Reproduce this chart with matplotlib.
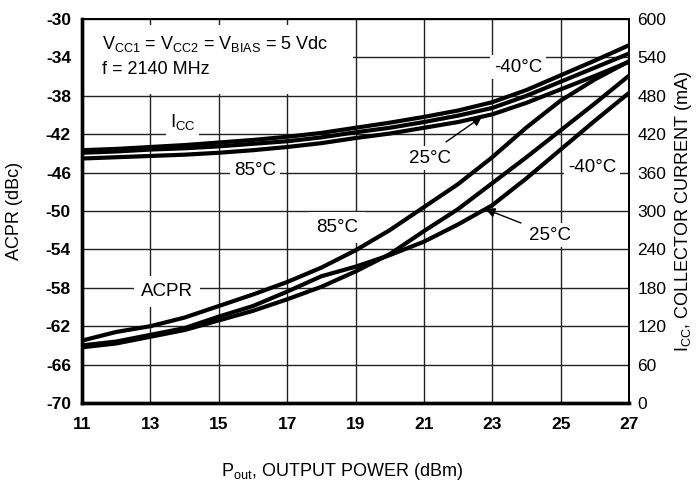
import matplotlib
matplotlib.use("Agg")
import matplotlib.pyplot as plt
from matplotlib.patches import Rectangle

plt.rcParams['font.family'] = ['Liberation Sans', 'DejaVu Sans']
plt.rcParams['mathtext.fontset'] = 'custom'
plt.rcParams['mathtext.rm'] = 'Liberation Sans'

# output power sweep (dBm)
pout = [11, 12, 13, 14, 15, 16, 17, 18, 19, 20, 21, 22, 23, 24, 25, 26, 27]

# ACPR (dBc), three temperatures
acpr_a = [-63.5, -62.6, -62.0, -61.1, -59.9, -58.7, -57.4, -55.9, -54.1, -52.0,
          -49.6, -47.2, -44.4, -41.3, -38.5, -36.3, -34.4]
acpr_b = [-64.2, -63.8, -63.1, -62.4, -61.4, -60.4, -59.2, -57.9, -56.3, -54.5,
          -52.1, -49.8, -47.1, -44.4, -41.6, -38.8, -35.9]
acpr_c = [-64.0, -63.6, -62.9, -62.2, -61.0, -59.9, -58.4, -56.8, -55.8, -54.6,
          -53.2, -51.4, -49.4, -46.6, -43.6, -40.6, -37.7]

# collector current (mA), three temperatures
icc_a = [395, 397, 400, 403, 407, 411, 416, 422, 430, 438, 447, 457, 470, 489, 512, 535, 559]
icc_b = [391, 393, 396, 398, 401, 405, 409, 415, 423, 430, 439, 449, 461, 480, 502, 524, 546]
icc_c = [382, 384, 386, 388, 391, 395, 400, 406, 414, 421, 430, 439, 451, 469, 490, 511, 533]

xticks = [11, 13, 15, 17, 19, 21, 23, 25, 27]
acpr_ticks = [-70, -66, -62, -58, -54, -50, -46, -42, -38, -34, -30]
icc_ticks = [0, 60, 120, 180, 240, 300, 360, 420, 480, 540, 600]

fig = plt.figure(figsize=(7, 4.82), dpi=100)
ax = fig.add_axes([82 / 700, 1 - 403 / 482, 547 / 700, 384 / 482])
ax.set_xlim(11, 27)
ax.set_ylim(-70, -30)
ax.set_xticks(xticks)
ax.set_yticks(acpr_ticks)
ax.set_xticklabels([str(v) for v in xticks], fontweight='bold', fontsize=12.5)
ax.set_yticklabels([str(v) for v in acpr_ticks], fontweight='bold', fontsize=12.5)
ax.tick_params(axis='y', length=0, pad=8)
ax.tick_params(axis='x', length=0, pad=10)
ax.grid(True, color='#222222', lw=1.0)
ax.set_axisbelow(True)

ax2 = ax.twinx()
ax2.set_ylim(0, 600)
ax2.set_yticks(icc_ticks)
ax2.set_yticklabels([str(v) for v in icc_ticks], fontsize=12.5)
ax2.tick_params(axis='y', length=0, pad=6)

for a in (ax, ax2):
    a.spines['left'].set_linewidth(2.4)
    a.spines['bottom'].set_linewidth(2.4)
    a.spines['top'].set_linewidth(1.3)
    a.spines['right'].set_linewidth(1.3)

# white cut-out behind the test conditions
ax.add_patch(Rectangle((11, -37.85), 7.93, 7.2, facecolor='white', edgecolor='none', zorder=1))

lw = 3.0
for y in (acpr_a, acpr_b, acpr_c):
    ax.plot(pout, y, color='black', lw=lw, solid_joinstyle='round', solid_capstyle='butt', zorder=3)
for y in (icc_a, icc_b, icc_c):
    ax2.plot(pout, y, color='black', lw=lw, solid_joinstyle='round', solid_capstyle='butt', zorder=3)

box = dict(facecolor='white', edgecolor='none', pad=2.5)
fs = 13.5
ax.text(11.58, -32.6, r'V$_{\mathregular{CC1}}$ = V$_{\mathregular{CC2}}$ = V$_{\mathregular{BIAS}}$ = 5 Vdc',
        fontsize=13, ha='left', va='center', zorder=2)
ax.text(11.58, -35.3, 'f = 2140 MHz', fontsize=13, ha='left', va='center', zorder=2)

ax.text(13.95, -40.8, r'I$_{\mathregular{CC}}$', fontsize=fs, ha='center', va='center', bbox=box, zorder=2)
ax.text(16.06, -45.8, '85°C', fontsize=fs, ha='center', va='center', bbox=box, zorder=2)
ax.text(23.75, -35.0, '-40°C', fontsize=fs, ha='center', va='center', bbox=box, zorder=2)
ax.text(21.18, -44.5, '25°C', fontsize=fs, ha='center', va='center', bbox=box, zorder=2)
ax.text(18.46, -51.7, '85°C', fontsize=fs, ha='center', va='center',
        bbox=dict(facecolor='white', edgecolor='none', pad=5), zorder=2)
ax.text(13.49, -58.4, 'ACPR', fontsize=fs, ha='center', va='center',
        bbox=dict(facecolor='white', edgecolor='none', pad=5), zorder=2)
ax.text(25.92, -45.5, '-40°C', fontsize=fs, ha='center', va='center', bbox=box, zorder=2)
ax.text(24.69, -52.5, '25°C', fontsize=fs, ha='center', va='center', bbox=box, zorder=2)

arrow = dict(arrowstyle='-|>', color='black', lw=1.0, mutation_scale=14, shrinkA=0, shrinkB=0)
ax2.annotate('', xy=(22.7, 447.4), xytext=(21.65, 408), arrowprops=arrow, zorder=4)
ax.annotate('', xy=(22.8, -49.8), xytext=(23.84, -51.25), arrowprops=arrow, zorder=4)

fig.text(15 / 700, 1 - 211 / 482, 'ACPR (dBc)', rotation=90, fontsize=13, ha='center', va='center')
fig.text(684 / 700, 1 - 211 / 482, r'I$_{\mathregular{CC}}$, COLLECTOR CURRENT (mA)', rotation=90,
         fontsize=13, ha='center', va='center')
fig.text(342 / 700, 1 - 472 / 482, r'P$_{\mathregular{out}}$, OUTPUT POWER (dBm)', fontsize=13,
         ha='center', va='center')

fig.savefig('out.png', dpi=100)
